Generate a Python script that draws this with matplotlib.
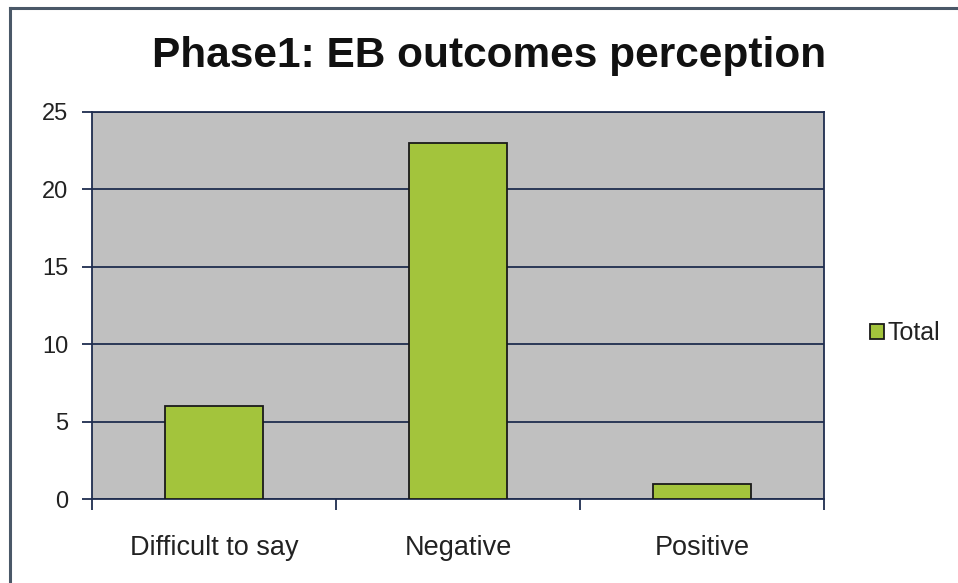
import matplotlib
matplotlib.use("Agg")
import matplotlib.pyplot as plt
from matplotlib.lines import Line2D

categories = ["Difficult to say", "Negative", "Positive"]
values = [6, 23, 1]
series_name = "Total"
yticks = [0, 5, 10, 15, 20, 25]

plt.rcParams['font.family'] = ['Liberation Sans', 'DejaVu Sans']

fig = plt.figure(figsize=(9.58, 5.83), dpi=100)
fig.patch.set_facecolor('white')

# figure border (top and left visible)
border_color = '#4a5868'
fig.add_artist(Line2D([10/958, 10/958], [0, 1 - 8/583], transform=fig.transFigure,
                      color=border_color, lw=2.2))
fig.add_artist(Line2D([10/958, 1], [1 - 8/583, 1 - 8/583], transform=fig.transFigure,
                      color=border_color, lw=2.2))

ax = fig.add_axes([92/958, 84/583, (824-92)/958, (499-112)/583])
ax.set_facecolor('#c0c0c0')

grid_color = '#1f2d4f'
x = list(range(len(categories)))
ax.bar(x, values, width=0.4, color='#a3c43c', edgecolor='#1a1a1a', linewidth=1.3,
       label=series_name, zorder=3)

ax.set_xlim(-0.5, len(categories) - 0.5)
ax.set_ylim(0, 25)
ax.set_yticks(yticks)
ax.set_yticklabels([str(v) for v in yticks])
ax.yaxis.grid(True, color=grid_color, linewidth=1.3, zorder=1)
ax.set_axisbelow(True)

ax.set_xticks(x)
ax.set_xticklabels(categories)
ax.set_xticks([i - 0.5 for i in range(len(categories) + 1)], minor=True)
ax.tick_params(axis='x', which='major', length=0, pad=26, labelsize=19.5, labelcolor='#222222')
ax.tick_params(axis='x', which='minor', length=8, width=1.3, color=grid_color, direction='out')
ax.tick_params(axis='y', which='major', length=7, width=1.3, color=grid_color, pad=10,
               labelsize=17, labelcolor='#222222')

for s in ax.spines.values():
    s.set_color(grid_color)
    s.set_linewidth(1.3)

fig.text(489/958, 1 - 56/583, "Phase1: EB outcomes perception", ha='center', va='center',
         fontsize=30.5, fontweight='bold', color='#111111')

leg = fig.legend(loc='center left', bbox_to_anchor=(860/958, 1 - 333/583), frameon=False,
                 fontsize=18, handlelength=0.55, handleheight=0.55, handletextpad=0.15,
                 borderaxespad=0)
for t in leg.get_texts():
    t.set_color('#222222')

fig.savefig("out.png", dpi=100, facecolor='white')
